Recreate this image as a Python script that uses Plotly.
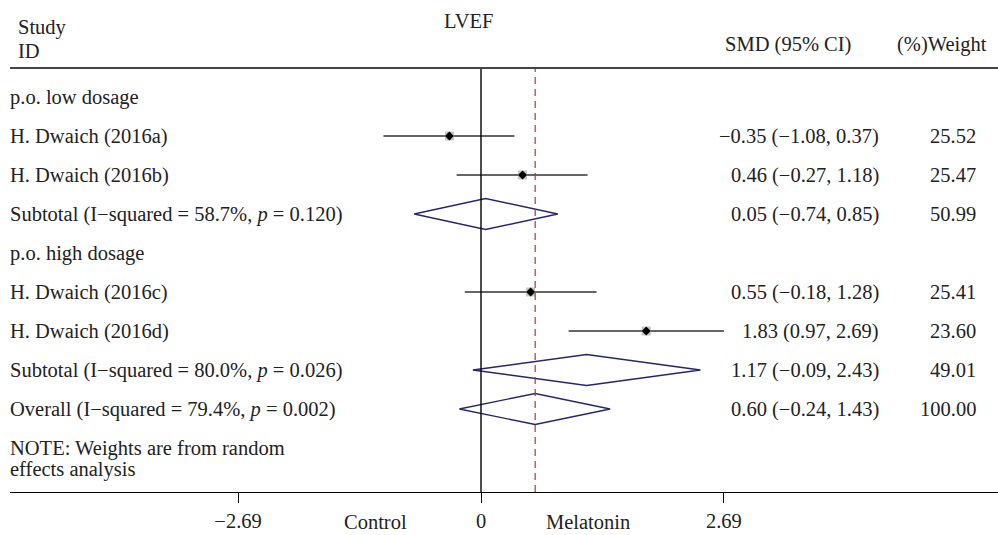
import plotly.graph_objects as go

# ---------------- data ----------------
row_labels = [
    "p.o. low dosage",
    "H. Dwaich (2016a)",
    "H. Dwaich (2016b)",
    "Subtotal (I−squared = 58.7%, <i>p</i> = 0.120)",
    "p.o. high dosage",
    "H. Dwaich (2016c)",
    "H. Dwaich (2016d)",
    "Subtotal (I−squared = 80.0%, <i>p</i> = 0.026)",
    "Overall (I−squared = 79.4%, <i>p</i> = 0.002)",
]
study_rows = [1, 2, 5, 6]
study_smd = [-0.35, 0.46, 0.55, 1.83]
study_lo = [-1.08, -0.27, -0.18, 0.97]
study_hi = [0.37, 1.18, 1.28, 2.69]
study_weight = [25.52, 25.47, 25.41, 23.60]

pooled_rows = [3, 7, 8]
pooled_smd = [0.05, 1.17, 0.60]
pooled_lo = [-0.74, -0.09, -0.24]
pooled_hi = [0.85, 2.43, 1.43]
pooled_weight = [50.99, 49.01, 100.00]

tick_vals = [-2.69, 0, 2.69]
tick_text = ["−2.69", "0", "2.69"]
overall_smd = 0.60

# ---------------- layout helpers ----------------
W, H = 998, 535
ML, MR, MT, MB = 10, 0, 0, 43
X0PX, PXU = 481.0, 90.3           # pixel of x=0, pixels per unit
ROW0, ROWH = 97.0, 39.0            # pixel of first row, row height
plot_h = H - MT - MB
plot_w = W - ML - MR


def yv(px):          # pixel y -> y data value
    return (ROW0 - px) / ROWH


def xp(px):          # pixel x -> paper x
    return (px - ML) / plot_w


def yp(px):          # pixel y -> paper y
    return (plot_h + MT - px) / plot_h


FONT = "Liberation Serif"
FS = 20.5
TXT = "#222222"
fmt = lambda v: f"{v:.2f}".replace("-", "−")

fig = go.Figure()

# study CIs and point estimates
for r, m, lo, hi in zip(study_rows, study_smd, study_lo, study_hi):
    fig.add_trace(go.Scatter(x=[lo, hi], y=[-r, -r], mode="lines",
                             line=dict(color="#333333", width=1.4),
                             hoverinfo="skip", showlegend=False))
fig.add_trace(go.Scatter(x=study_smd, y=[-r for r in study_rows], mode="markers",
                         marker=dict(symbol="square", size=9, color="#c4c4c4"),
                         hoverinfo="skip", showlegend=False))
fig.add_trace(go.Scatter(x=study_smd, y=[-r for r in study_rows], mode="markers",
                         marker=dict(symbol="diamond", size=7, color="#000000"),
                         hoverinfo="skip", showlegend=False))

# pooled diamonds
DH = 15.5 / ROWH
for r, m, lo, hi in zip(pooled_rows, pooled_smd, pooled_lo, pooled_hi):
    fig.add_trace(go.Scatter(x=[lo, m, hi, m, lo], y=[-r, -r + DH, -r, -r - DH, -r],
                             mode="lines", line=dict(color="#26266e", width=1.4),
                             hoverinfo="skip", showlegend=False))

# vertical reference lines
fig.add_shape(type="line", xref="x", yref="paper", x0=0, x1=0,
              y0=0, y1=yp(68), line=dict(color="black", width=1.4))
fig.add_shape(type="line", xref="x", yref="paper", x0=overall_smd, x1=overall_smd,
              y0=0, y1=yp(68), line=dict(color="#b8323c", width=1.2, dash="7px,5px"))
# header rule
fig.add_shape(type="line", xref="paper", yref="paper", x0=0, x1=1,
              y0=yp(68), y1=yp(68), line=dict(color="#444444", width=2))

ann = []


def add_text(text, x, y, xanchor="left", yref="paper"):
    ann.append(dict(text=text, x=x, y=y, xref="paper", yref=yref, xanchor=xanchor,
                    yanchor="middle", showarrow=False,
                    xshift=-2 if xanchor == "left" else 0,
                    font=dict(family=FONT, size=FS, color=TXT)))


# headers
add_text("Study", xp(18), yp(28))
add_text("ID", xp(18), yp(51))
add_text("LVEF", xp(468), yp(21), "center")
add_text("SMD (95% CI)", xp(788), yp(45), "center")
add_text("(%)Weight", xp(942), yp(45), "center")

# row labels
for k, lab in enumerate(row_labels):
    add_text(lab, 0, -k, "left", "y")

# effect + weight columns
for r, m, lo, hi, w in zip(study_rows + pooled_rows, study_smd + pooled_smd,
                           study_lo + pooled_lo, study_hi + pooled_hi,
                           study_weight + pooled_weight):
    add_text(f"{fmt(m)} ({fmt(lo)}, {fmt(hi)})", xp(881), -r, "right", "y")
    add_text(f"{w:.2f}", xp(978), -r, "right", "y")

# note
add_text("NOTE: Weights are from random", 0, yp(448))
add_text("effects analysis", 0, yp(469))

# direction labels
add_text("Control", xp(375), yp(522), "center")
add_text("Melatonin", xp(588), yp(522), "center")

fig.update_layout(
    width=W, height=H,
    margin=dict(l=ML, r=MR, t=MT, b=MB, pad=0),
    paper_bgcolor="white", plot_bgcolor="white",
    annotations=ann,
    showlegend=False,
    xaxis=dict(range=[(ML - X0PX) / PXU, (W - MR - X0PX) / PXU],
               showgrid=False, zeroline=False, showline=True,
               linecolor="black", linewidth=1.4,
               ticks="outside", ticklen=10, tickwidth=1.2, tickcolor="black",
               tickvals=tick_vals, ticktext=tick_text,
               tickfont=dict(family=FONT, size=FS, color=TXT), fixedrange=True),
    yaxis=dict(range=[yv(H - MB), yv(MT)], visible=False, fixedrange=True),
)

fig.write_html("out.html", config={"displayModeBar": False})
